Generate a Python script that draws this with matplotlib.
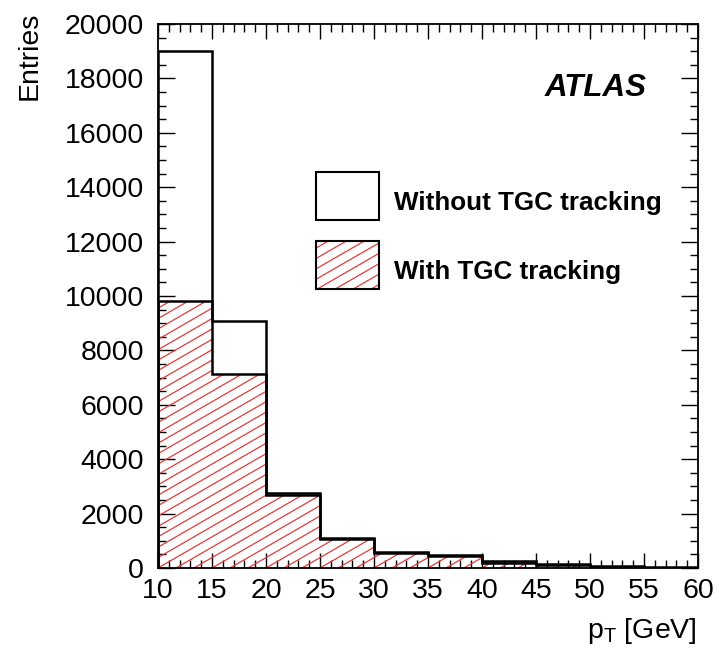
import numpy as np
import matplotlib
matplotlib.use("Agg")
import matplotlib.pyplot as plt
from matplotlib.collections import LineCollection
from matplotlib.patches import Rectangle
from matplotlib.ticker import MultipleLocator

# pT binning and entries per bin
bin_edges = [10, 15, 20, 25, 30, 35, 40, 45, 50, 55, 60]
without_tgc = [19000, 9070, 2760, 1120, 600, 470, 250, 130, 60, 40]
with_tgc = [9820, 7130, 2670, 1070, 565, 430, 200, 100, 15, 5]

x_ticks = [10, 15, 20, 25, 30, 35, 40, 45, 50, 55, 60]
y_ticks = [0, 2000, 4000, 6000, 8000, 10000, 12000, 14000, 16000, 18000, 20000]

label_without = "Without TGC tracking"
label_with = "With TGC tracking"

plt.rcParams['font.family'] = ['Liberation Sans', 'DejaVu Sans']
plt.rcParams['mathtext.fontset'] = 'custom'
plt.rcParams['mathtext.rm'] = 'Liberation Sans'

W_PX, H_PX = 719, 660
fig = plt.figure(figsize=(W_PX / 100, H_PX / 100), dpi=100)
ax_left, ax_right, ax_top, ax_bottom = 158, 698, 24, 568
ax_w, ax_h = ax_right - ax_left, ax_bottom - ax_top
ax = fig.add_axes([ax_left / W_PX, 1 - ax_bottom / H_PX, ax_w / W_PX, ax_h / H_PX])

HATCH_RED = '#e23b3b'
HATCH_ANGLE = 30.0
HATCH_SPACING = 9.0  # pixels, perpendicular


def hatch_collection(clip_patch):
    """Parallel red lines across the axes (uniform in pixels), clipped to a patch."""
    th = np.deg2rad(HATCH_ANGLE)
    d = np.array([np.cos(th), np.sin(th)])
    n = np.array([-np.sin(th), np.cos(th)])
    corners = np.array([[0, 0], [ax_w, 0], [0, ax_h], [ax_w, ax_h]])
    proj = corners @ n
    L = ax_w + ax_h
    segs = []
    for c in np.arange(proj.min(), proj.max() + HATCH_SPACING, HATCH_SPACING):
        p0 = c * n
        a = p0 - L * d
        b = p0 + L * d
        segs.append([(a[0] / ax_w, a[1] / ax_h), (b[0] / ax_w, b[1] / ax_h)])
    lc = LineCollection(segs, colors=HATCH_RED, linewidths=0.9,
                        transform=ax.transAxes, zorder=2)
    ax.add_collection(lc)
    lc.set_clip_path(clip_patch)
    return lc


# hatched area for the TGC-tracking histogram
fill_patch = ax.stairs(with_tgc, bin_edges, baseline=0, fill=True,
                       facecolor='none', edgecolor='none', zorder=1)
hatch_collection(fill_patch)

# black histogram outlines
ax.stairs(with_tgc, bin_edges, baseline=0, color='black', linewidth=1.8, zorder=3)
ax.stairs(without_tgc, bin_edges, baseline=0, color='black', linewidth=1.8, zorder=3)

ax.set_xlim(bin_edges[0], bin_edges[-1])
ax.set_ylim(0, 20000)
ax.set_xticks(x_ticks)
ax.set_yticks(y_ticks)
ax.xaxis.set_minor_locator(MultipleLocator(1))
ax.yaxis.set_minor_locator(MultipleLocator(500))
ax.tick_params(which='both', direction='in', top=True, right=True,
               labelsize=20.5, width=1.0, color='black')
ax.tick_params(axis='y', which='major', length=12, pad=10)
ax.tick_params(axis='y', which='minor', length=6)
ax.tick_params(axis='x', which='major', length=11, pad=7)
ax.tick_params(axis='x', which='minor', length=5.5)
for sp in ax.spines.values():
    sp.set_linewidth(1.3)

# axis titles
fig.text(37 / W_PX, 1 - 12 / H_PX, "Entries", rotation=90, rotation_mode='anchor',
         ha='right', va='baseline', fontsize=20.5)
fig.text(697 / W_PX, 1 - 638 / H_PX, r"$\mathregular{p_{T}}$ [GeV]",
         ha='right', va='baseline', fontsize=20.5)

# experiment label
ax.text(0.9056, 0.8676, "ATLAS", transform=ax.transAxes, ha='right', va='baseline',
        fontsize=22.5, fontweight='bold', fontstyle='italic')

# legend
def to_ax(px_x, px_y):
    return (px_x - ax_left) / ax_w, (ax_bottom - px_y) / ax_h

bx0, by0 = to_ax(316, 220)
bx1, by1 = to_ax(379, 172)
box1 = Rectangle((bx0, by0), bx1 - bx0, by1 - by0, transform=ax.transAxes,
                 facecolor='white', edgecolor='black', linewidth=1.5, zorder=4)
ax.add_patch(box1)

hx0, hy0 = to_ax(316, 289)
hx1, hy1 = to_ax(379, 241)
box2 = Rectangle((hx0, hy0), hx1 - hx0, hy1 - hy0, transform=ax.transAxes,
                 facecolor='white', edgecolor='none', zorder=4)
ax.add_patch(box2)
lc = hatch_collection(box2)
lc.set_zorder(5)
ax.add_patch(Rectangle((hx0, hy0), hx1 - hx0, hy1 - hy0, transform=ax.transAxes,
                       facecolor='none', edgecolor='black', linewidth=1.5, zorder=6))

tx, ty1 = to_ax(394, 203)
_, ty2 = to_ax(394, 272)
ax.text(tx, ty1, label_without, transform=ax.transAxes, ha='left', va='center',
        fontsize=18.7, fontweight='bold', zorder=7)
ax.text(tx, ty2, label_with, transform=ax.transAxes, ha='left', va='center',
        fontsize=18.7, fontweight='bold', zorder=7)

fig.savefig("out.png", dpi=100)
